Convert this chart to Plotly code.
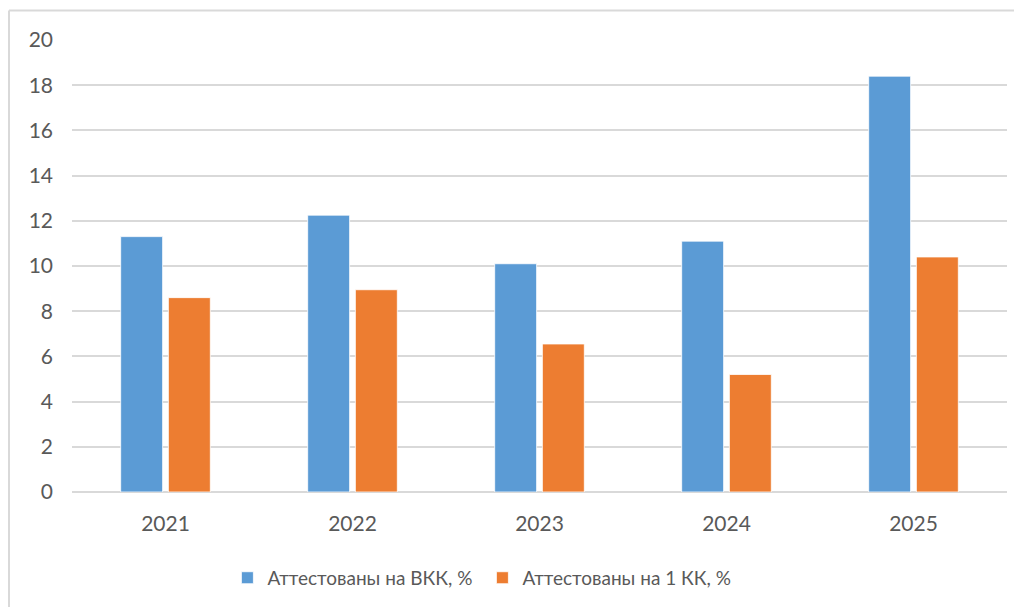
import plotly.graph_objects as go

years = ["2021", "2022", "2023", "2024", "2025"]
vkk = [11.3, 12.25, 10.1, 11.1, 18.4]
kk1 = [8.6, 8.95, 6.55, 5.2, 10.4]
name_vkk = "Аттестованы на ВКК, %"
name_kk1 = "Аттестованы на 1 КК, %"
y_ticks = [0, 2, 4, 6, 8, 10, 12, 14, 16, 18, 20]

BLUE = "#5B9BD5"
ORANGE = "#ED7D31"
GRID = "#D9D9D9"
TEXT = "#595959"
FONT = "Lato"

fig = go.Figure()
fig.add_trace(go.Bar(x=years, y=vkk, name=name_vkk, marker=dict(color=BLUE, line=dict(color="#FFFFFF", width=0.8))))
fig.add_trace(go.Bar(x=years, y=kk1, name=name_kk1, marker=dict(color=ORANGE, line=dict(color="#FFFFFF", width=0.8))))

fig.update_layout(
    width=1022, height=607,
    margin=dict(l=64, r=23, t=32, b=123, autoexpand=False),
    paper_bgcolor="white", plot_bgcolor="white",
    barmode="group", bargap=0.49, bargroupgap=0.12,
    font=dict(family=FONT, size=21, color=TEXT),
    showlegend=True,
    legend=dict(orientation="h", x=0.1662, xanchor="left", y=-0.19, yanchor="middle",
                font=dict(family=FONT, size=19, color=TEXT),
                entrywidth=210, entrywidthmode="pixels", itemwidth=30),
    xaxis=dict(showgrid=False, showline=False, ticks="", tickfont=dict(size=21, color=TEXT),
               ticklabelstandoff=17),
    yaxis=dict(range=[0, 20], tickvals=y_ticks, showgrid=True, gridcolor=GRID, gridwidth=1.5,
               zeroline=True, zerolinecolor=GRID, zerolinewidth=1.5, showline=False, ticks="",
               tickfont=dict(size=21, color=TEXT), ticklabelstandoff=18),
    shapes=[
        dict(type="line", xref="paper", yref="paper", x0=-0.0674, x1=-0.0674, y0=1.065, y1=-0.5,
             line=dict(color=GRID, width=2)),
        dict(type="line", xref="paper", yref="paper", x0=-0.0674, x1=1.1, y0=1.065, y1=1.065,
             line=dict(color=GRID, width=2)),
    ],
)

fig.write_html("out.html")
